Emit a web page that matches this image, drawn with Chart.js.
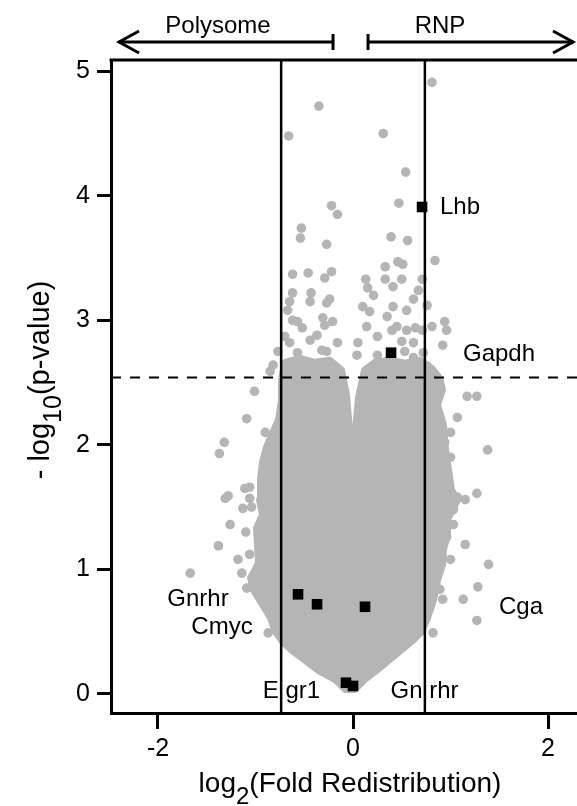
<!DOCTYPE html>
<html><head><meta charset="utf-8">
<script src="https://cdn.jsdelivr.net/npm/chart.js@4.4.1/dist/chart.umd.min.js"></script>
<style>html,body{margin:0;padding:0;background:#fff;overflow:hidden;}#wrap{width:577px;height:806px;position:relative;}canvas{display:block;}</style>
</head><body><div id="wrap"><canvas id="c"></canvas></div>
<script>
// ---- axes ----
const xTicks = [-2, 0, 2];
const yTicks = [0, 1, 2, 3, 4, 5];
const xLimits = [-2.482, 2.297];
const yLimits = [-0.153, 5.09];
const foldCutoffs = [-0.737, 0.737];
const pCutoff = 2.54;

// ---- dense core of gray points (outline) ----
const coreX = [-0.738,-0.697,-0.544,-0.390,-0.236,-0.113,-0.062,-0.031,0.021,0.051,0.113,0.226,0.379,0.533,0.687,0.810,0.892,0.923,0.872,0.933,0.954,0.985,1.015,1.077,1.015,0.964,0.974,0.933,0.923,0.872,0.831,0.769,0.708,0.615,0.503,0.379,0.256,0.123,0.021,-0.082,-0.185,-0.359,-0.492,-0.615,-0.718,-0.800,-0.851,-0.933,-1.026,-1.056,-0.974,-0.985,-0.995,-0.933,-0.964,-0.954,-0.933,-0.892,-0.831,-0.769,-0.738,-0.738];
const coreY = [2.538,2.667,2.699,2.667,2.683,2.602,2.402,2.120,2.120,2.378,2.602,2.667,2.683,2.659,2.683,2.618,2.538,2.442,2.321,2.161,1.960,1.799,1.639,1.558,1.462,1.382,1.277,1.157,1.036,0.916,0.755,0.610,0.498,0.426,0.353,0.273,0.193,0.112,0.032,0.032,0.112,0.185,0.265,0.337,0.410,0.498,0.610,0.715,0.835,0.932,1.052,1.197,1.333,1.438,1.558,1.719,1.863,1.984,2.096,2.201,2.361,2.538];

// ---- individual gray points ----
const dotsX = [0.81,-0.35,-0.66,0.31,0.54,-0.22,-0.16,0.47,-0.53,-0.54,-0.27,0.39,0.56,0.84,0.51,-0.62,-0.46,-0.29,-0.22,0.33,0.46,0.13,0.33,0.50,0.71,-0.62,-0.65,-0.43,-0.44,-0.24,-0.27,0.15,0.21,0.41,0.67,0.10,0.17,0.41,0.55,0.62,0.76,-0.67,-0.57,-0.62,-0.21,-0.29,-0.31,-0.52,0.14,0.35,0.45,0.40,0.55,0.64,0.71,0.81,0.94,0.96,0.92,-0.70,-0.65,-0.44,-0.37,-0.16,0.05,0.25,0.50,0.62,-0.77,-0.57,-0.27,-0.32,0.04,0.25,0.53,0.62,0.72,0.38,0.76,-0.82,-0.85,-1.01,0.86,1.17,1.27,1.07,1.00,0.94,1.00,1.38,1.27,1.15,1.07,1.03,1.03,0.96,1.15,1.39,1.00,0.89,0.92,1.13,1.28,1.27,0.82,-1.09,-0.90,-1.32,-1.37,-1.06,-1.11,-1.28,-1.31,-1.06,-1.13,-1.04,-1.26,-1.10,-1.38,-1.06,-1.18,-1.67,-1.14,-1.09,-0.87];
const dotsY = [4.91,4.72,4.48,4.50,4.19,3.92,3.85,3.94,3.74,3.66,3.61,3.67,3.64,3.48,3.45,3.37,3.38,3.34,3.39,3.43,3.47,3.33,3.33,3.33,3.33,3.22,3.15,3.22,3.15,3.17,3.14,3.26,3.20,3.27,3.24,3.11,3.07,3.11,3.08,3.17,3.12,3.08,2.99,3.00,2.99,2.96,3.02,2.94,2.95,3.03,2.95,2.92,2.92,2.94,2.92,2.95,2.99,2.92,2.80,2.87,2.82,2.84,2.88,2.82,2.82,2.87,2.83,2.82,2.75,2.74,2.75,2.76,2.72,2.72,2.75,2.70,2.74,2.67,2.63,2.64,2.59,2.43,2.47,2.39,2.39,2.22,2.10,2.02,1.90,1.96,1.61,1.56,1.58,1.48,1.36,1.26,1.20,1.04,1.08,0.84,0.76,0.76,0.86,0.59,0.49,2.21,2.10,2.02,1.93,1.66,1.65,1.59,1.57,1.57,1.49,1.50,1.36,1.30,1.19,1.12,1.08,0.97,0.97,0.85,0.49];

// ---- highlighted genes (black squares) ----
const markedX = [0.708, 0.390, -0.564, -0.369, 0.123, -0.072, 0.000];
const markedY = [3.91, 2.74, 0.80, 0.72, 0.70, 0.09, 0.064];

// ---- gene labels ----
const labelText = ['Lhb', 'Gapdh', 'Gnrhr', 'Cmyc', 'Cga', 'E gr1', 'Gn rhr'];
const labelX = [0.892, 1.128, -1.590, -1.344, 1.723, -0.631, 0.733];
const labelY = [3.91, 2.723, 0.763, 0.538, 0.699, 0.024, 0.024];
const labelAlign = ['left', 'left', 'center', 'center', 'center', 'center', 'center'];

// ---- top region arrows ----
const regionText = ['Polysome', 'RNP'];
const regionFrom = [-0.205, 0.154];
const regionTo = [-2.42, 2.277];
const regionTextX = [-1.385, 0.892];

const FONT = '"Liberation Sans", Arial, Helvetica, sans-serif';
const GRAY = '#b5b5b5';

const pts = (xs, ys) => xs.map((v, i) => ({x: v, y: ys[i]}));

function drawParts(ctx, parts, cx, by) {
  let w = 0;
  parts.forEach(p => { ctx.font = p[1] + 'px ' + FONT; w += ctx.measureText(p[0]).width; });
  let xx = cx - w / 2;
  ctx.textAlign = 'left'; ctx.textBaseline = 'alphabetic';
  parts.forEach(p => { ctx.font = p[1] + 'px ' + FONT; ctx.fillText(p[0], xx, by + p[2]); xx += ctx.measureText(p[0]).width; });
}

const overlay = {
  id: 'overlay',
  afterDraw(chart) {
    const {ctx, chartArea: a, scales: {x, y}} = chart;
    ctx.save();
    ctx.strokeStyle = '#000'; ctx.fillStyle = '#000';
    ctx.lineWidth = 3;
    ctx.beginPath(); ctx.moveTo(a.left - 1.5, a.top); ctx.lineTo(a.right, a.top); ctx.stroke();
    // gene labels
    ctx.font = '24px ' + FONT; ctx.textBaseline = 'middle';
    labelText.forEach((t, i) => {
      ctx.textAlign = labelAlign[i];
      ctx.fillText(t, x.getPixelForValue(labelX[i]), y.getPixelForValue(labelY[i]));
    });
    // arrows
    const ay = 42;
    ctx.lineJoin = 'miter'; ctx.lineCap = 'butt';
    regionText.forEach((t, i) => {
      const x0 = x.getPixelForValue(regionFrom[i]), x1 = x.getPixelForValue(regionTo[i]);
      const d = Math.sign(x1 - x0);
      ctx.lineWidth = 3;
      ctx.beginPath(); ctx.moveTo(x0, ay); ctx.lineTo(x1 - d * 1.5, ay); ctx.stroke();
      ctx.beginPath(); ctx.moveTo(x0, ay - 8); ctx.lineTo(x0, ay + 8); ctx.stroke();
      ctx.beginPath(); ctx.moveTo(x1 - d * 22, ay - 11); ctx.lineTo(x1 - d * 2, ay); ctx.lineTo(x1 - d * 22, ay + 11); ctx.stroke();
      ctx.font = '24px ' + FONT; ctx.textAlign = 'center'; ctx.textBaseline = 'alphabetic';
      ctx.fillText(t, x.getPixelForValue(regionTextX[i]), 33);
    });
    // axis titles
    drawParts(ctx, [['log', 28, 0], ['2', 24, 12], ['(Fold Redistribution)', 28, 0]], 350, 792);
    ctx.translate(49, 380); ctx.rotate(-Math.PI / 2);
    drawParts(ctx, [['- log', 29, 0], ['10', 25, 12], ['(p-value)', 29, 0]], 0, 0);
    ctx.restore();
  }
};

new Chart(document.getElementById('c'), {
  type: 'scatter',
  data: {
    datasets: [
      {type: 'scatter', data: pts(markedX, markedY), pointStyle: 'rect', pointRadius: 7.5, backgroundColor: '#000', borderWidth: 0, order: 0},
      {type: 'line', data: [{x: foldCutoffs[0], y: yLimits[0]}, {x: foldCutoffs[0], y: yLimits[1]}], borderColor: '#000', borderWidth: 2.5, pointRadius: 0, order: 1},
      {type: 'line', data: [{x: foldCutoffs[1], y: yLimits[0]}, {x: foldCutoffs[1], y: yLimits[1]}], borderColor: '#000', borderWidth: 2.5, pointRadius: 0, order: 1},
      {type: 'line', data: [{x: xLimits[0], y: pCutoff}, {x: xLimits[1], y: pCutoff}], borderColor: '#000', borderWidth: 2, borderDash: [10, 9], pointRadius: 0, order: 1},
      {type: 'scatter', data: pts(dotsX, dotsY), pointRadius: 4.8, backgroundColor: GRAY, borderWidth: 0, order: 2},
      {type: 'line', data: pts(coreX, coreY), borderColor: GRAY, backgroundColor: GRAY, borderWidth: 6, borderJoinStyle: 'round', fill: 'shape', pointRadius: 0, tension: 0, order: 3}
    ]
  },
  options: {
    responsive: true, maintainAspectRatio: false, animation: false,
    layout: {autoPadding: false, padding: {top: 60, right: 0, left: 0, bottom: 0}},
    plugins: {legend: {display: false}, tooltip: {enabled: false}},
    scales: {
      x: {
        type: 'linear', min: xLimits[0], max: xLimits[1],
        afterBuildTicks: s => { s.ticks = xTicks.map(v => ({value: v})); },
        afterFit: s => { s.height = 93; s.paddingLeft = 0; s.paddingRight = 0; },
        grid: {display: true, drawOnChartArea: false, drawTicks: true, tickLength: 16, tickWidth: 3, tickColor: '#000'},
        border: {display: true, width: 3, color: '#000'},
        ticks: {color: '#000', font: {size: 25, family: FONT}, padding: 5, maxRotation: 0}
      },
      y: {
        type: 'linear', min: yLimits[0], max: yLimits[1],
        afterBuildTicks: s => { s.ticks = yTicks.map(v => ({value: v})); },
        afterFit: s => { s.width = 111; s.paddingTop = 0; s.paddingBottom = 0; },
        grid: {display: true, drawOnChartArea: false, drawTicks: true, tickLength: 14, tickWidth: 3, tickColor: '#000'},
        border: {display: true, width: 3, color: '#000'},
        ticks: {color: '#000', font: {size: 25, family: FONT}, padding: 7}
      }
    }
  },
  plugins: [overlay]
});
</script></body></html>
